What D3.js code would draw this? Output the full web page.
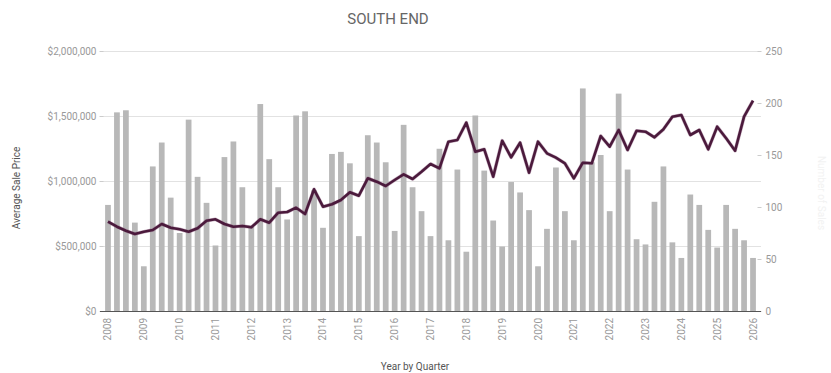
<!DOCTYPE html>
<html>
<head>
<meta charset="utf-8">
<script src="https://cdn.jsdelivr.net/npm/d3@7"></script>
<style>
  html, body { margin: 0; padding: 0; background: #fff; }
  svg { display: block; font-family: Roboto, "Open Sans", sans-serif; }
</style>
</head>
<body>
<svg id="chart" width="831" height="373"></svg>
<script>
// Quarters 2008 Q1 .. 2026 Q1
const years = d3.range(2008, 2027);
const quarters = [];
years.forEach(y => [1, 2, 3, 4].forEach(q => { if (y < 2026 || q === 1) quarters.push(y + " Q" + q); }));

// Number of sales per quarter (right axis)
const salesCount = [
  102, 191, 193, 85, 43, 139, 162, 109,
  75, 184, 129, 104, 63, 148, 163, 119,
  81, 199, 146, 119, 88, 188, 192, 116,
  80, 151, 153, 142, 72, 169, 162, 143,
  77, 179, 119, 96, 72, 156, 68, 136,
  57, 188, 135, 87, 62, 124, 114, 97,
  43, 79, 138, 96, 68, 214, 143, 150,
  96, 209, 136, 69, 64, 105, 139, 66,
  51, 112, 102, 78, 61, 102, 79, 68,
  51
];

// Average sale price per quarter (left axis)
const avgPrice = [
  686900, 648500, 617700, 592300, 610000, 623100, 669200, 640800,
  628500, 610000, 636200, 694600, 705400, 669200, 648500, 653800,
  643800, 705400, 679200, 756200, 761500, 794600, 746200, 936200,
  802300, 820800, 853800, 913100, 886900, 1020800, 994600, 961500,
  1007700, 1051500, 1015400, 1071500, 1130800, 1097700, 1302300, 1315400,
  1448500, 1225400, 1243800, 1033100, 1310000, 1182300, 1294600, 1063800,
  1302300, 1213100, 1179200, 1136200, 1020800, 1140800, 1136200, 1346200,
  1263800, 1392300, 1238500, 1386900, 1379200, 1336200, 1397700, 1494600,
  1507700, 1353800, 1392300, 1243800, 1417700, 1328500, 1233100, 1494600,
  1617700
];

const priceTicks = [0, 500000, 1000000, 1500000, 2000000];
const countTicks = [0, 50, 100, 150, 200, 250];

const svg = d3.select("#chart");
const plotLeft = 103.5, plotRight = 757.5, plotTop = 51, plotBottom = 311;

const x = d3.scaleBand().domain(quarters).range([plotLeft, plotRight]).paddingInner(0.36).paddingOuter(0.18);
const yPrice = d3.scaleLinear().domain([0, 2000000]).range([plotBottom, plotTop]);
const yCount = d3.scaleLinear().domain([0, 250]).range([plotBottom, plotTop]);

// Title
svg.append("text")
  .attr("x", 388).attr("y", 24)
  .attr("text-anchor", "middle")
  .attr("font-size", 15)
  .attr("fill", "#666")
  .text("SOUTH END");

// Horizontal gridlines from the price axis
svg.append("g")
  .selectAll("line")
  .data(priceTicks.filter(d => d > 0))
  .join("line")
  .attr("x1", 100).attr("x2", 761)
  .attr("y1", d => Math.round(yPrice(d)) + 0.5)
  .attr("y2", d => Math.round(yPrice(d)) + 0.5)
  .attr("stroke", "#e2e2e2");

// Left axis (price)
const leftAxis = svg.append("g")
  .attr("transform", `translate(${plotLeft},0)`)
  .call(d3.axisLeft(yPrice).tickValues(priceTicks).tickSize(4).tickPadding(3)
    .tickFormat(d => "$" + d3.format(",")(d)));
leftAxis.select(".domain").remove();
leftAxis.selectAll(".tick line").attr("stroke", "#ccc");
leftAxis.selectAll("text").attr("fill", "#999").attr("font-size", 10).attr("font-family", "Roboto, sans-serif");

// Right axis (count)
const rightAxis = svg.append("g")
  .attr("transform", `translate(${plotRight},0)`)
  .call(d3.axisRight(yCount).tickValues(countTicks).tickSize(4).tickPadding(4));
rightAxis.select(".domain").remove();
rightAxis.selectAll(".tick line").attr("stroke", "#ccc");
rightAxis.selectAll("text").attr("fill", "#999").attr("font-size", 10).attr("font-family", "Roboto, sans-serif");

// Bars: number of sales
svg.append("g")
  .selectAll("rect")
  .data(salesCount)
  .join("rect")
  .attr("x", (d, i) => x(quarters[i]))
  .attr("width", x.bandwidth())
  .attr("y", d => yCount(d))
  .attr("height", d => plotBottom - yCount(d))
  .attr("fill", "#b8b8b8");

// Baseline
svg.append("line")
  .attr("x1", 100).attr("x2", 761)
  .attr("y1", plotBottom + 0.5).attr("y2", plotBottom + 0.5)
  .attr("stroke", "#555");

// Line: average sale price
const line = d3.line()
  .x((d, i) => x(quarters[i]) + x.bandwidth() / 2)
  .y(d => yPrice(d));
svg.append("path")
  .datum(avgPrice)
  .attr("d", line)
  .attr("fill", "none")
  .attr("stroke", "#8a5a7c")
  .attr("stroke-width", 3.6)
  .attr("stroke-linejoin", "round")
  .attr("opacity", 0.45);
svg.append("path")
  .datum(avgPrice)
  .attr("d", line)
  .attr("fill", "none")
  .attr("stroke", "#4b1a3c")
  .attr("stroke-width", 2.6)
  .attr("stroke-linejoin", "round");

// X axis labels: one per year at Q1
svg.append("g")
  .selectAll("text")
  .data(years)
  .join("text")
  .attr("transform", y => `translate(${x(y + " Q1") + x.bandwidth() / 2 + 3.5},318) rotate(-90)`)
  .attr("text-anchor", "end")
  .attr("font-size", 10)
  .attr("fill", "#999")
  .text(y => y);

// Axis titles
svg.append("text")
  .attr("transform", "translate(20,188) rotate(-90)")
  .attr("text-anchor", "middle")
  .attr("font-size", 10)
  .attr("fill", "#555")
  .text("Average Sale Price");

svg.append("text")
  .attr("x", 415).attr("y", 370)
  .attr("text-anchor", "middle")
  .attr("font-size", 10)
  .attr("fill", "#555")
  .text("Year by Quarter");

svg.append("text")
  .attr("transform", "translate(818,193) rotate(90)")
  .attr("text-anchor", "middle")
  .attr("font-size", 10)
  .attr("fill", "#f2f2f2")
  .text("Number of Sales");
</script>
</body>
</html>
